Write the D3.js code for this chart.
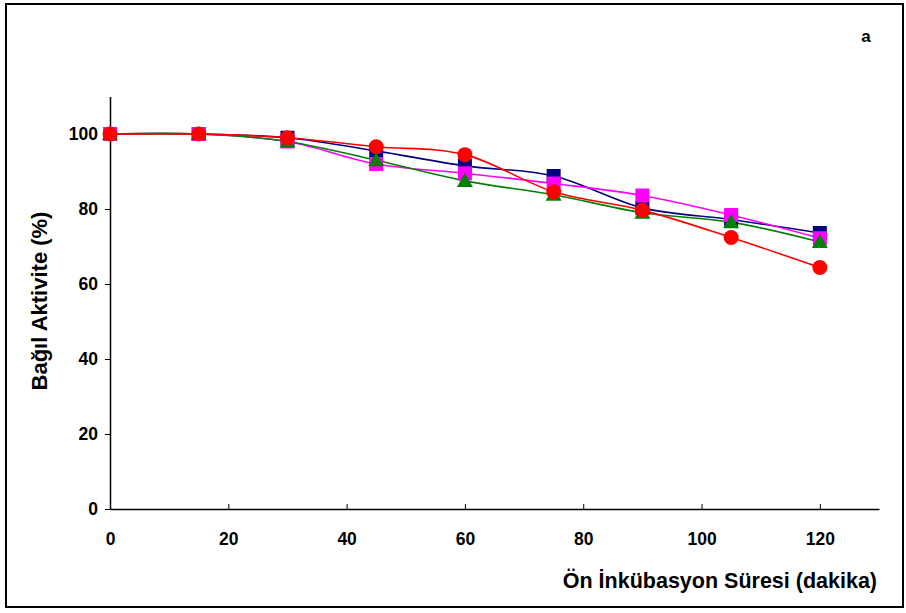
<!DOCTYPE html>
<html>
<head>
<meta charset="utf-8">
<script src="https://cdn.jsdelivr.net/npm/d3@7"></script>
<style>
  html, body { margin: 0; padding: 0; background: #fff; }
  svg { display: block; }
  text { font-family: "Liberation Sans", Arial, sans-serif; font-weight: bold; fill: #000; }
</style>
</head>
<body>
<svg id="chart" width="906" height="613"></svg>
<script>
// Pre-incubation times (minutes)
const times = [0, 15, 30, 45, 60, 75, 90, 105, 120];

// Relative activity (%) for each condition
const navySeries    = [100, 100, 99, 95.5, 91.5, 88.8, 80.3, 77.2, 73.6];
const magentaSeries = [100, 100, 98, 92, 89.5, 86.8, 83.6, 78.4, 72.2];
const greenSeries   = [100, 100, 98, 93, 87.5, 83.8, 79, 76.5, 71.2];
const redSeries     = [100, 100, 99, 96.6, 94.5, 84.6, 79.7, 72.4, 64.4];

const xTicks = [0, 20, 40, 60, 80, 100, 120];
const yTicks = [0, 20, 40, 60, 80, 100];

const panelLabel = "a";
const xTitle = "Ön İnkübasyon Süresi (dakika)";
const yTitle = "Bağıl Aktivite (%)";

const svg = d3.select("#chart");

// outer frame
svg.append("rect")
  .attr("x", 6).attr("y", 4).attr("width", 897).attr("height", 603)
  .attr("fill", "none").attr("stroke", "#000").attr("stroke-width", 2);

const x = d3.scaleLinear().domain([0, 130]).range([110, 879]);
const y = d3.scaleLinear().domain([0, 110]).range([509, 96.5]);

const tickFont = sel => sel.selectAll("text")
  .attr("font-size", 17.5)
  .attr("font-family", "Liberation Sans, Arial, sans-serif")
  .attr("font-weight", "bold")
  .attr("fill", "#000");

// x axis: ticks pointing up into the plot
const xAxis = svg.append("g").attr("transform", `translate(0,${y(0)})`)
  .call(d3.axisBottom(x).tickValues(xTicks).tickSizeInner(-5).tickSizeOuter(0).tickPadding(24));
xAxis.select(".domain").attr("stroke-width", 1.5);
xAxis.call(tickFont);

// y axis: ticks pointing outward
const yAxis = svg.append("g").attr("transform", `translate(${x(0)},0)`)
  .call(d3.axisLeft(y).tickValues(yTicks).tickSizeInner(5).tickSizeOuter(0).tickPadding(7));
yAxis.select(".domain").attr("stroke-width", 1.5);
yAxis.call(tickFont);

// titles
svg.append("text").attr("x", 877).attr("y", 588).attr("text-anchor", "end")
  .attr("font-size", 21.5).text(xTitle);
svg.append("text").attr("transform", "translate(47,301) rotate(-90)")
  .attr("text-anchor", "middle").attr("font-size", 22).text(yTitle);
svg.append("text").attr("x", 866).attr("y", 42).attr("text-anchor", "middle")
  .attr("font-size", 17).text(panelLabel);

const line = d3.line()
  .x((d, i) => x(times[i]))
  .y(d => y(d))
  .curve(d3.curveCatmullRom.alpha(0));

const series = [
  { values: navySeries,    color: "#000080", marker: "square" },
  { values: magentaSeries, color: "#ff00ff", marker: "square" },
  { values: greenSeries,   color: "#008000", marker: "triangle" },
  { values: redSeries,     color: "#ff0000", marker: "circle" }
];

series.forEach(s => {
  svg.append("path").datum(s.values)
    .attr("d", line).attr("fill", "none")
    .attr("stroke", s.color).attr("stroke-width", 1.6);
});

series.forEach(s => {
  const g = svg.append("g").attr("fill", s.color);
  s.values.forEach((v, i) => {
    const cx = x(times[i]), cy = y(v);
    if (s.marker === "square") {
      g.append("rect").attr("x", cx - 7).attr("y", cy - 7).attr("width", 14).attr("height", 14);
    } else if (s.marker === "circle") {
      g.append("circle").attr("cx", cx).attr("cy", cy).attr("r", 7.5);
    } else {
      g.append("path").attr("d", `M${cx},${cy - 8}L${cx + 8},${cy + 6}L${cx - 8},${cy + 6}Z`);
    }
  });
});
</script>
</body>
</html>
